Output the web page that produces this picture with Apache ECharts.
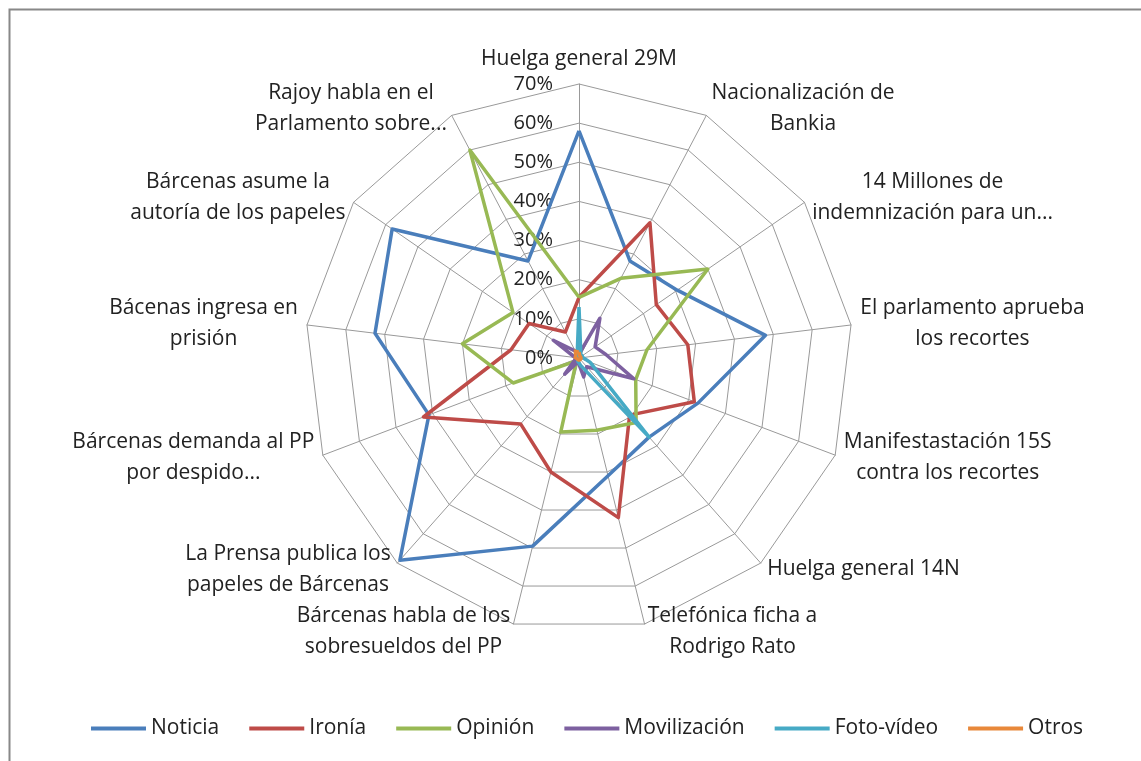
<!DOCTYPE html>
<html lang="es" style="height: 100%">
<head>
    <meta charset="UTF-8">
    <title>Radar</title>
    <script src="https://cdn.jsdelivr.net/npm/echarts@6/dist/echarts.min.js"></script>
</head>
<body style="height: 100%; margin: 0">
<div id="main" style="width: 1141px; height: 761px"></div>
<script>
    var categorias = [
        'Huelga general 29M',
        'Nacionalización de\nBankia',
        '14 Millones de\nindemnización para un...',
        'El parlamento aprueba\nlos recortes',
        'Manifestastación 15S\ncontra los recortes',
        'Huelga general 14N',
        'Telefónica ficha a\nRodrigo Rato',
        'Bárcenas habla de los\nsobresueldos del PP',
        'La Prensa publica los\npapeles de Bárcenas',
        'Bárcenas demanda al PP\npor despido...',
        'Bácenas ingresa en\nprisión',
        'Bárcenas asume la\nautoría de los papeles',
        'Rajoy habla en el\nParlamento sobre...'
    ];
    var noticia      = [58, 28, 30.5, 48, 32.5, 27, 31, 49.5, 69, 41, 52.5, 58, 28];
    var ironia       = [15.5, 39, 24, 28, 31.5, 19.5, 42, 30, 22.5, 42.5, 17.5, 15.5, 7.5];
    var opinion      = [15.5, 23, 40, 17.5, 15.5, 22, 19, 19.5, 1, 18, 30, 20.5, 60];
    var movilizacion = [1, 11.5, 5, 7, 15, 3, 5, 1, 5.5, 1, 1, 8, 2];
    var fotovideo    = [13, 1, 1, 1, 3, 27, 2, 1, 0.5, 0.5, 0.5, 1, 1];
    var otros        = [1.5, 0.5, 0.5, 0.5, 0.5, 0.5, 0.5, 0.5, 0.5, 0.5, 1, 1, 2];
    var nombres = ['Noticia', 'Ironía', 'Opinión', 'Movilización', 'Foto-vídeo', 'Otros'];
    var colores = ['#4A7EBB', '#BE4B48', '#98B954', '#7D60A0', '#46AAC5', '#E8883A'];

    var fuente = 'Open Sans';
    var tamNombre = 21;

    // echarts dibuja el radar en sentido antihorario: se invierte el orden (menos el primero)
    var orden = [0];
    for (var j = categorias.length - 1; j > 0; j--) orden.push(j);
    function reordenar(arr) {
        return orden.map(function (i) { return arr[i]; });
    }

    // lineas centradas dentro de cada etiqueta
    var ctx = document.createElement('canvas').getContext('2d');
    ctx.font = tamNombre + 'px "' + fuente + '"';
    var rich = {};
    categorias.forEach(function (c, i) {
        var w = Math.max.apply(null, c.split('\n').map(function (l) { return ctx.measureText(l).width; }));
        rich['n' + i] = {width: Math.ceil(w) + 2, align: 'center'};
    });

    var indicadores = orden.map(function (i, k) {
        var ind = {name: categorias[i], min: 0, max: 70};
        if (k === 0) {
            ind.axisLabel = {
                show: true,
                formatter: '{value}%',
                color: '#222',
                fontSize: 20,
                fontFamily: fuente,
                margin: 26
            };
        }
        return ind;
    });

    var datos = [noticia, ironia, opinion, movilizacion, fotovideo, otros];
    var series = [{
        type: 'radar',
        symbol: 'none',
        data: datos.map(function (d, k) {
            return {
                name: nombres[k],
                value: reordenar(d),
                lineStyle: {color: colores[k], width: 3.5},
                itemStyle: {color: colores[k]}
            };
        })
    }];

    var myoption = {
        animation: false,
        color: colores,
        graphic: [{
            type: 'rect',
            shape: {x: 9.5, y: 9.5, width: 1200, height: 800},
            style: {fill: 'none', stroke: '#888', lineWidth: 2},
            silent: true
        }],
        legend: {
            bottom: 17,
            left: 86,
            data: nombres,
            icon: 'rect',
            itemWidth: 55,
            itemHeight: 4,
            itemGap: 30,
            textStyle: {fontSize: 21, fontFamily: fuente, color: '#222'}
        },
        radar: {
            center: [579, 358],
            radius: 274,
            startAngle: 90,
            shape: 'polygon',
            splitNumber: 7,
            indicator: indicadores,
            nameGap: 8,
            axisName: {
                color: '#222',
                fontSize: tamNombre,
                fontFamily: fuente,
                lineHeight: 31,
                formatter: function (name) {
                    var i = categorias.indexOf(name);
                    return name.split('\n').map(function (l) {
                        return '{n' + i + '|' + l + '}';
                    }).join('\n');
                },
                rich: rich
            },
            axisLabel: {show: false},
            axisLine: {lineStyle: {color: '#999', width: 1}},
            splitLine: {lineStyle: {color: '#999', width: 1}},
            splitArea: {show: false}
        },
        series: series
    };
    var myChart = echarts.init(document.getElementById('main'));
    myChart.setOption(myoption);
</script>
</body>
</html>
